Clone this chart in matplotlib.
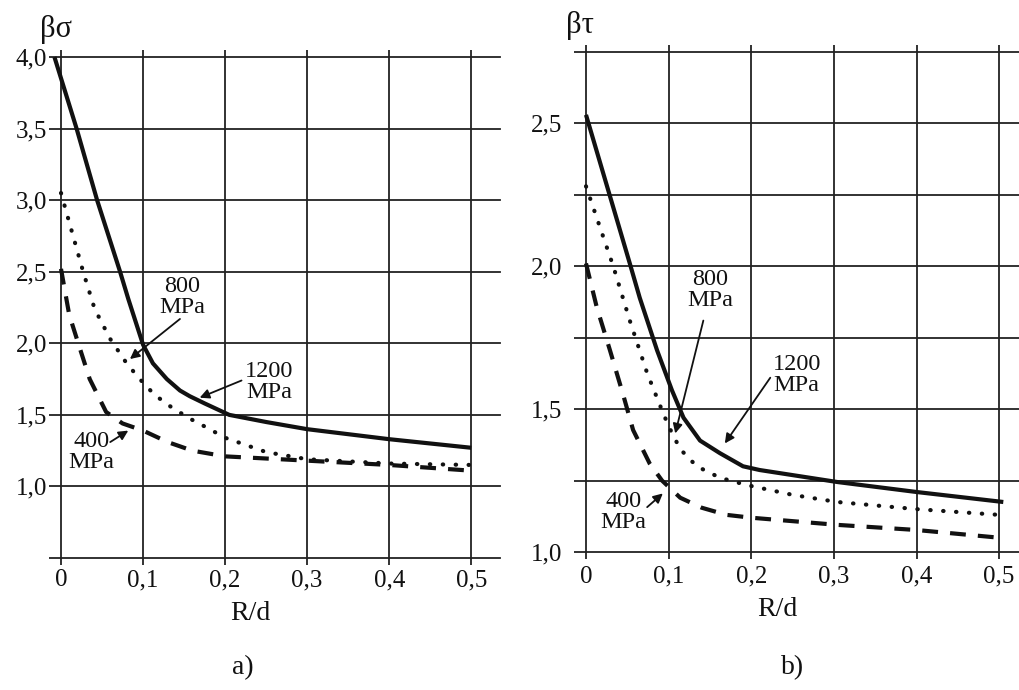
import matplotlib

matplotlib.use("Agg")
import matplotlib.pyplot as plt

plt.rcParams.update({
    "font.family": ["Liberation Serif", "DejaVu Serif"],
    "font.size": 18,
})

INK = "#111111"
GRID = "#222222"

# ---- panel a: beta_sigma vs R/d ----------------------------------------------
a_x_1200 = [-0.008, 0.019, 0.044, 0.072, 0.082, 0.1, 0.112, 0.129, 0.145, 0.157,
            0.175, 0.19, 0.205, 0.25, 0.3, 0.4, 0.5]
a_y_1200 = [4.0, 3.50, 3.00, 2.50, 2.31, 1.99, 1.86, 1.75, 1.67, 1.63,
            1.58, 1.54, 1.50, 1.45, 1.40, 1.33, 1.27]

a_x_800 = [0.0, 0.027, 0.041, 0.06, 0.08, 0.096, 0.114, 0.133, 0.155, 0.178,
           0.2, 0.25, 0.3, 0.4, 0.5]
a_y_800 = [3.05, 2.50, 2.24, 2.03, 1.86, 1.75, 1.64, 1.56, 1.48, 1.41,
           1.34, 1.24, 1.19, 1.16, 1.15]

a_x_400 = [0.0, 0.01, 0.021, 0.035, 0.055, 0.075, 0.1, 0.13, 0.16, 0.2, 0.3, 0.4, 0.5]
a_y_400 = [2.52, 2.20, 2.00, 1.75, 1.52, 1.44, 1.39, 1.31, 1.25, 1.21, 1.18, 1.15, 1.11]

# ---- panel b: beta_tau vs R/d -------------------------------------------------
b_x_1200 = [0.0, 0.053, 0.065, 0.086, 0.104, 0.118, 0.138, 0.162, 0.19, 0.21,
            0.304, 0.4, 0.505]
b_y_1200 = [2.53, 2.01, 1.89, 1.706, 1.566, 1.47, 1.39, 1.346, 1.30, 1.287,
            1.245, 1.21, 1.175]

b_x_800 = [0.0, 0.033, 0.053, 0.074, 0.09, 0.1, 0.114, 0.134, 0.162, 0.195,
           0.25, 0.304, 0.4, 0.5]
b_y_800 = [2.28, 2.00, 1.81, 1.626, 1.51, 1.44, 1.36, 1.30, 1.26, 1.234,
           1.20, 1.175, 1.15, 1.13]

b_x_400 = [0.0, 0.013, 0.029, 0.045, 0.057, 0.077, 0.092, 0.114, 0.14, 0.17,
           0.2, 0.304, 0.4, 0.5]
b_y_400 = [2.01, 1.857, 1.706, 1.55, 1.427, 1.31, 1.25, 1.19, 1.155, 1.13,
           1.12, 1.095, 1.077, 1.05]

x_ticks = [0.0, 0.1, 0.2, 0.3, 0.4, 0.5]
x_labels = ["0", "0,1", "0,2", "0,3", "0,4", "0,5"]
a_y_ticks = [0.5, 1.0, 1.5, 2.0, 2.5, 3.0, 3.5, 4.0]
a_y_labels = ["", "1,0", "1,5", "2,0", "2,5", "3,0", "3,5", "4,0"]
b_y_ticks = [1.0, 1.25, 1.5, 1.75, 2.0, 2.25, 2.5, 2.75]
b_y_labels = ["1,0", "", "1,5", "", "2,0", "", "2,5", ""]

W, H = 1019, 690
fig = plt.figure(figsize=(W / 100, H / 100), dpi=100)
fig.patch.set_facecolor("white")


def px_axes(x0, y0, x1, y1):
    # axes placed by pixel box (left, top, right, bottom) in image coords
    return fig.add_axes([x0 / W, 1 - y1 / H, (x1 - x0) / W, (y1 - y0) / H])


def style(ax, xlim, ylim, yticks, ylabels, ypad, xpad):
    ax.set_xlim(*xlim)
    ax.set_ylim(*ylim)
    ax.set_xticks(x_ticks)
    ax.set_xticklabels(x_labels)
    ax.set_yticks(yticks)
    ax.set_yticklabels(ylabels)
    for s in ax.spines.values():
        s.set_visible(False)
    ax.grid(True, color=GRID, lw=1.3)
    for gl in ax.get_xgridlines() + ax.get_ygridlines():
        gl.set_clip_on(False)
    ax.tick_params(axis="x", top=True, direction="out", length=5, width=1.3,
                   color=GRID, pad=xpad, labelsize=18, labelcolor=INK)
    ax.tick_params(axis="y", direction="out", length=9, width=1.3,
                   color=GRID, pad=ypad, labelsize=18, labelcolor=INK)


def curves(ax, s, d, l):
    ax.plot(*s, color=INK, lw=3.0, solid_capstyle="butt", solid_joinstyle="round",
            clip_on=False, zorder=3)
    ax.plot(*d, color=INK, lw=3.0, linestyle=(0, (0.1, 3.0)),
            dash_capstyle="round", clip_on=False, zorder=3)
    ax.plot(*l, color=INK, lw=3.0, linestyle=(0, (3.8, 2.9)),
            dash_capstyle="butt", clip_on=False, zorder=3)


def note(ax, text, xy, xytext, textpos):
    ax.annotate("", xy=xy, xytext=xytext,
                arrowprops=dict(arrowstyle="-|>", color=INK, lw=1.3,
                                mutation_scale=14, shrinkA=0, shrinkB=0))
    ax.text(*textpos, text, ha="center", va="center", fontsize=17.5,
            color=INK, linespacing=1.0)


# ---- panel a -------------------------------------------------------------------
ax1 = px_axes(61, 57, 500, 558)
style(ax1, (0, 0.535), (0.5, 4.0), a_y_ticks, a_y_labels, ypad=1, xpad=3)
curves(ax1, (a_x_1200, a_y_1200), (a_x_800, a_y_800), (a_x_400, a_y_400))
note(ax1, "800\nMPa", (0.084, 1.89), (0.145, 2.17), (0.148, 2.32))
note(ax1, "1200\nMPa", (0.169, 1.62), (0.22, 1.74), (0.254, 1.73))
note(ax1, "400\nMPa", (0.082, 1.39), (0.06, 1.31), (0.037, 1.24))

# ---- panel b -------------------------------------------------------------------
ax2 = px_axes(586, 52, 1019, 552)
style(ax2, (0, 0.524), (1.0, 2.75), b_y_ticks, b_y_labels, ypad=8, xpad=5)
curves(ax2, (b_x_1200, b_y_1200), (b_x_800, b_y_800), (b_x_400, b_y_400))
note(ax2, "800\nMPa", (0.108, 1.415), (0.142, 1.81), (0.150, 1.916))
note(ax2, "1200\nMPa", (0.168, 1.38), (0.223, 1.61), (0.255, 1.62))
note(ax2, "400\nMPa", (0.093, 1.205), (0.074, 1.157), (0.045, 1.14))

# ---- free text -----------------------------------------------------------------
def ftext(x, y, s, size):
    fig.text(x / W, 1 - y / H, s, ha="center", va="center", fontsize=size, color=INK)


ftext(56, 29, "βσ", 22)
ftext(580, 26, "βτ", 22)
ftext(250, 614, "R/d", 20)
ftext(777, 610, "R/d", 20)
ftext(243, 668, "a)", 20)
ftext(793, 668, "b)", 20)

fig.savefig("out.png", dpi=100)
